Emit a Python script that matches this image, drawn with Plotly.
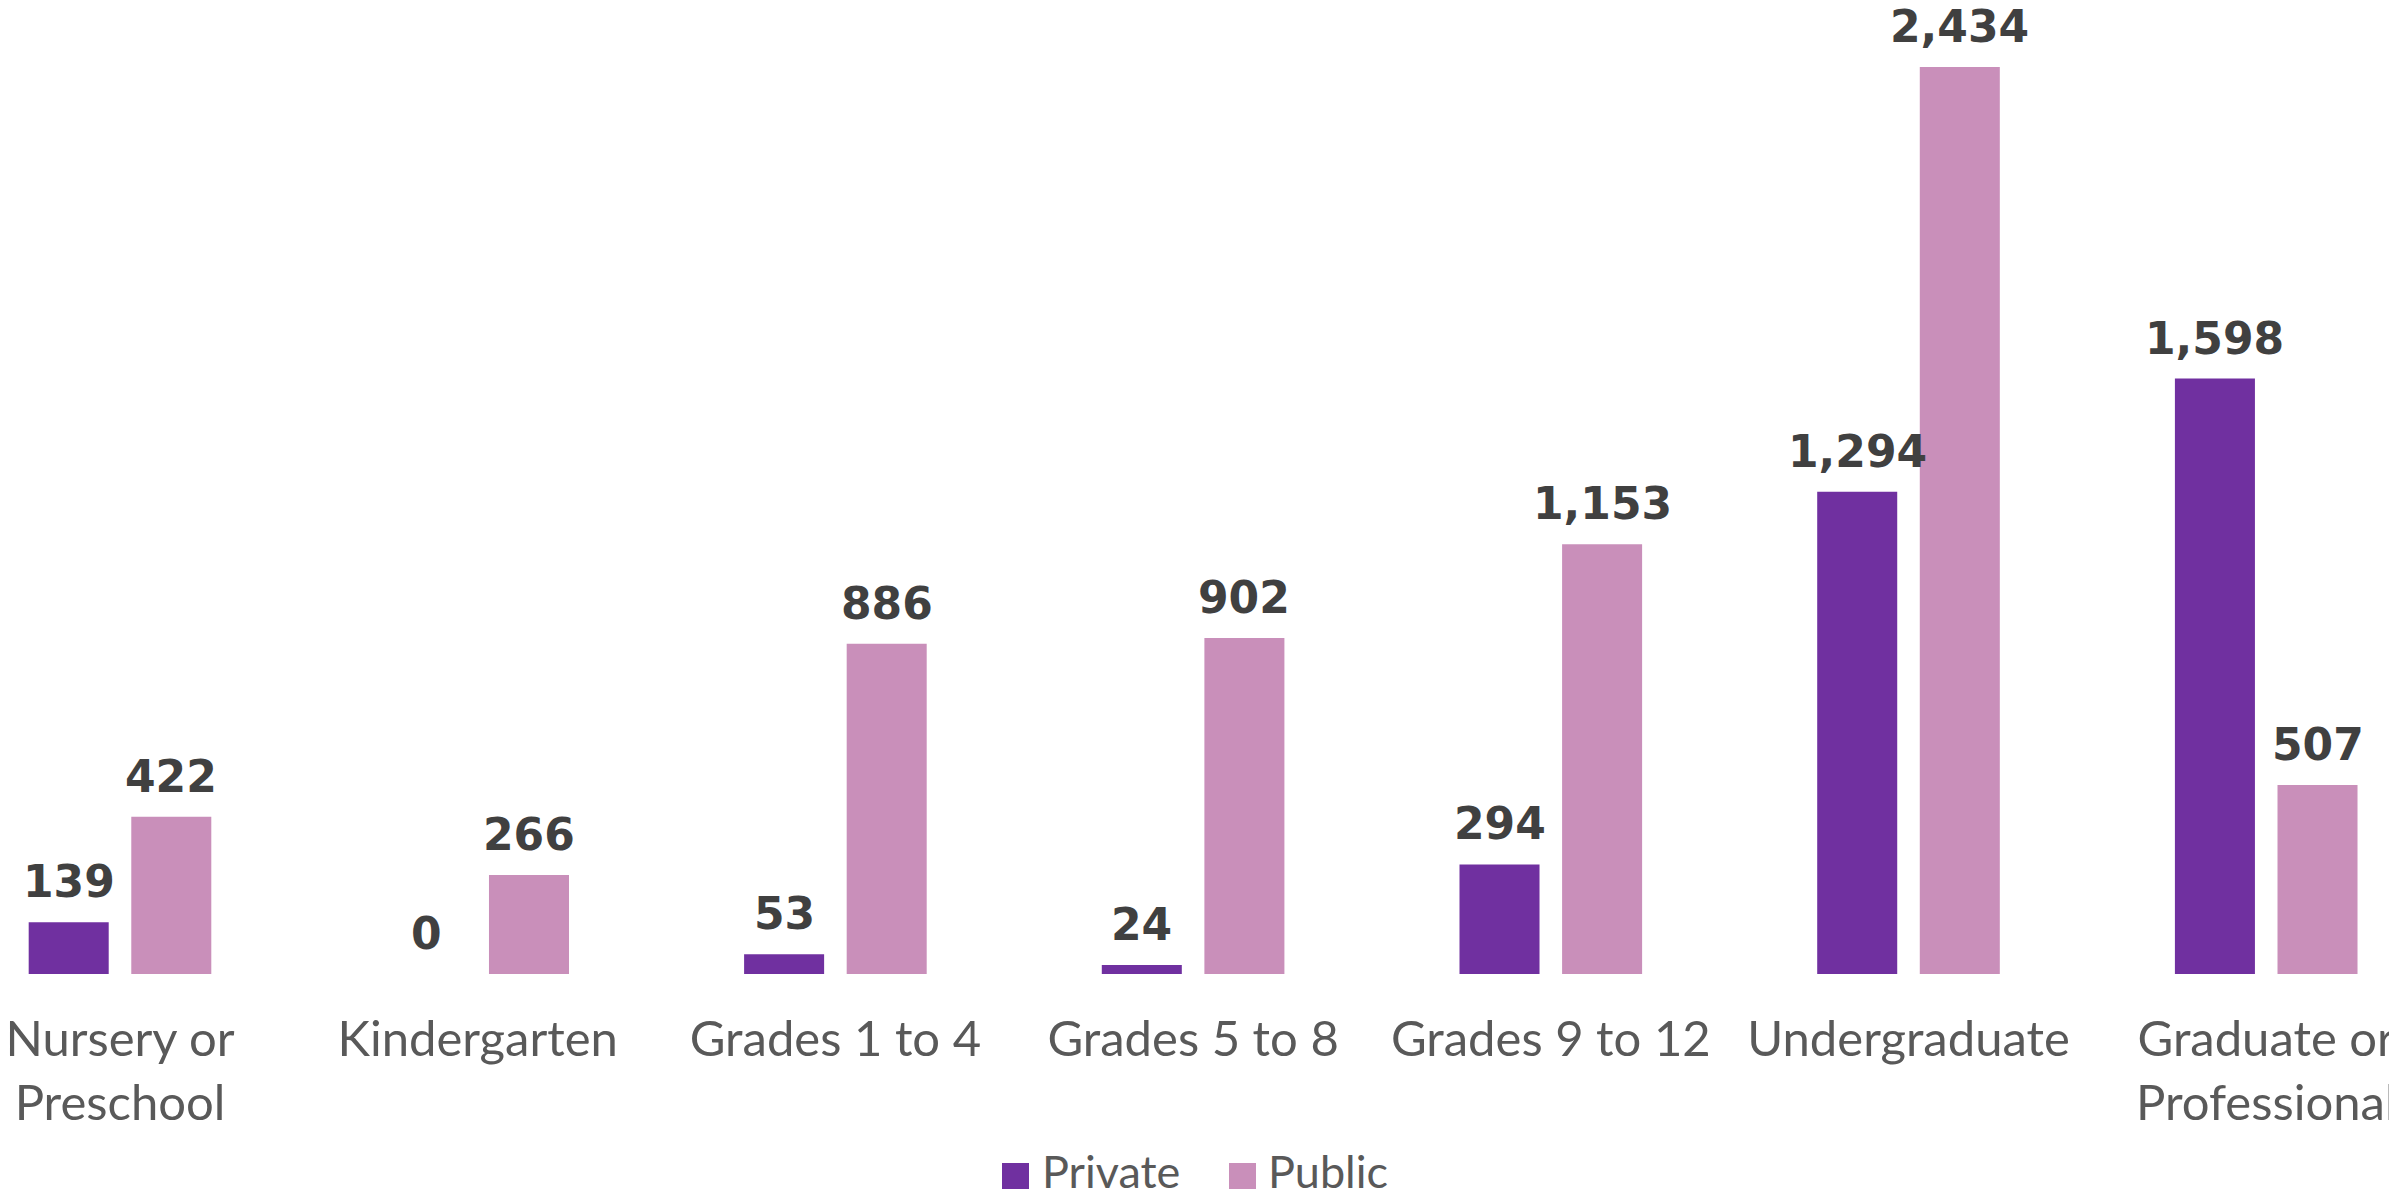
import plotly.graph_objects as go

categories = ["Nursery or<br>Preschool", "Kindergarten", "Grades 1 to 4", "Grades 5 to 8",
              "Grades 9 to 12", "Undergraduate", "Graduate or<br>Professional"]
private_vals = [139, 0, 53, 24, 294, 1294, 1598]
public_vals = [422, 266, 886, 902, 1153, 2434, 507]
series_names = ["Private", "Public"]
series_colors = ["#7030A0", "#C98FBA"]

W, H = 2397, 1199
OFF = 8  # page body margin offset
fig = go.Figure()
for name, vals, col in zip(series_names, [private_vals, public_vals], series_colors):
    fig.add_trace(go.Bar(x=categories, y=vals, name=name, marker=dict(color=col, line=dict(width=0)),
                         showlegend=False, hoverinfo="x+y+name"))

# data labels
bar_off_px = 51.3
for sign, vals in zip([-1, 1], [private_vals, public_vals]):
    for c, v in zip(categories, vals):
        fig.add_annotation(x=c, y=v, xref="x", yref="y", text=f"{v:,}", showarrow=False,
                           xshift=sign * bar_off_px, yanchor="bottom", yshift=14, borderpad=0,
                           font=dict(family="DejaVu Sans", size=44, color="#404040", weight="bold"))

# custom legend (large squares)
plot_h = 974 - OFF
def py(px):
    return (plot_h - (px - OFF)) / plot_h
def pxr(px):
    return (px - OFF) / W
legend_items = [(1002, 1041), (1229, 1267)]
for (sx, tx), name, col in zip(legend_items, series_names, series_colors):
    fig.add_shape(type="rect", xref="paper", yref="paper", x0=pxr(sx), x1=pxr(sx + 27),
                  y0=py(1189), y1=py(1163), fillcolor=col, line=dict(width=0))
    fig.add_annotation(xref="paper", yref="paper", x=pxr(tx), y=py(1199), xanchor="left", yanchor="bottom",
                       text=name, showarrow=False, borderpad=0,
                       font=dict(family="Lato", size=45, color="#595959"))

fig.update_layout(
    width=W, height=H, autosize=False,
    margin=dict(l=0, r=0, t=0, b=H - plot_h, pad=0, autoexpand=False),
    plot_bgcolor="white", paper_bgcolor="white",
    barmode="group", bargap=0.4264, bargroupgap=0.22,
    showlegend=False,
    xaxis=dict(range=[-0.3131, 6.388], showgrid=False, showline=False, zeroline=False,
               ticks="", tickfont=dict(family="Lato", size=49, color="#595959"),
               ticklabelstandoff=32, automargin=False, fixedrange=True),
    yaxis=dict(range=[0, 2592.4], visible=False, showgrid=False, zeroline=False,
               automargin=False, fixedrange=True),
)
fig.write_html("out.html")
